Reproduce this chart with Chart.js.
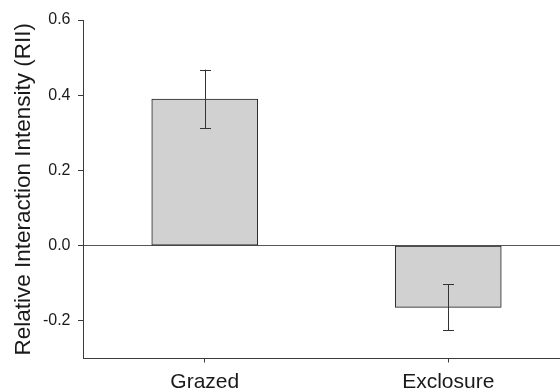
<!DOCTYPE html>
<html>
<head>
<meta charset="utf-8">
<script src="https://cdn.jsdelivr.net/npm/chart.js@4.4.1/dist/chart.umd.min.js"></script>
<style>
  html, body { margin: 0; padding: 0; background: #fff; overflow: hidden; }
  canvas { display: block; }
</style>
</head>
<body>
<canvas id="myChart" width="570" height="391"></canvas>
<script>
// dados
var categories = ['Grazed', 'Exclosure'];
var rii = [0.39, -0.164];
var se = [0.078, 0.061];
var yTicks = [-0.2, 0.0, 0.2, 0.4, 0.6];

var axisColor = '#3a3a3a';

// desenha as barras de erro por cima das barras
var errorBars = {
    id: 'errorBars',
    afterDatasetsDraw: function (chart) {
        var ctx = chart.ctx;
        var y = chart.scales.y;
        var meta = chart.getDatasetMeta(0);
        ctx.save();
        ctx.strokeStyle = '#333';
        ctx.lineWidth = 1;
        meta.data.forEach(function (bar, i) {
            var x = Math.round(bar.x) + 0.5;
            var top = y.getPixelForValue(rii[i] + se[i]);
            var bottom = y.getPixelForValue(rii[i] - se[i]);
            ctx.beginPath();
            ctx.moveTo(x, top);
            ctx.lineTo(x, bottom);
            ctx.moveTo(x - 5.5, Math.round(top) + 0.5);
            ctx.lineTo(x + 5.5, Math.round(top) + 0.5);
            ctx.moveTo(x - 5.5, Math.round(bottom) + 0.5);
            ctx.lineTo(x + 5.5, Math.round(bottom) + 0.5);
            ctx.stroke();
        });
        ctx.restore();
    }
};

new Chart(document.getElementById('myChart').getContext('2d'), {
    type: 'bar',
    data: {
        labels: categories,
        datasets: [{
            data: rii,
            backgroundColor: '#d1d1d1',
            borderColor: '#222',
            borderWidth: 1,
            borderSkipped: false,
            barThickness: 106
        }]
    },
    options: {
        responsive: false,
        animation: false,
        layout: { padding: { top: 20, left: 0, right: 0, bottom: 0 } },
        plugins: {
            legend: { display: false },
            tooltip: { enabled: false }
        },
        scales: {
            x: {
                offset: true,
                afterFit: function (scale) { scale.height = 32.5; },
                grid: {
                    offset: false,
                    drawOnChartArea: false,
                    tickLength: 4,
                    tickColor: axisColor
                },
                border: { color: axisColor, width: 1 },
                ticks: {
                    padding: 7,
                    color: '#1a1a1a',
                    font: { family: 'Liberation Sans', size: 21 }
                }
            },
            y: {
                min: -0.3,
                max: 0.6,
                afterFit: function (scale) { scale.width = 83; },
                afterBuildTicks: function (scale) {
                    scale.ticks = yTicks.map(function (v) { return { value: v }; });
                },
                grid: {
                    // so a linha do zero atravessa o grafico
                    color: function (c) { return c.tick && c.tick.value === 0 ? '#555' : 'rgba(0,0,0,0)'; },
                    tickColor: axisColor,
                    tickLength: 5
                },
                border: { color: axisColor, width: 1 },
                ticks: {
                    padding: 7.5,
                    color: '#1a1a1a',
                    font: { family: 'Liberation Sans', size: 16 },
                    callback: function (v) { return Number(v).toFixed(1); }
                },
                title: {
                    display: true,
                    text: 'Relative Interaction Intensity (RII)',
                    color: '#1a1a1a',
                    font: { family: 'Liberation Sans', size: 22.5 },
                    padding: { top: 10, bottom: 0 }
                }
            }
        }
    },
    plugins: [errorBars]
});
</script>
</body>
</html>
